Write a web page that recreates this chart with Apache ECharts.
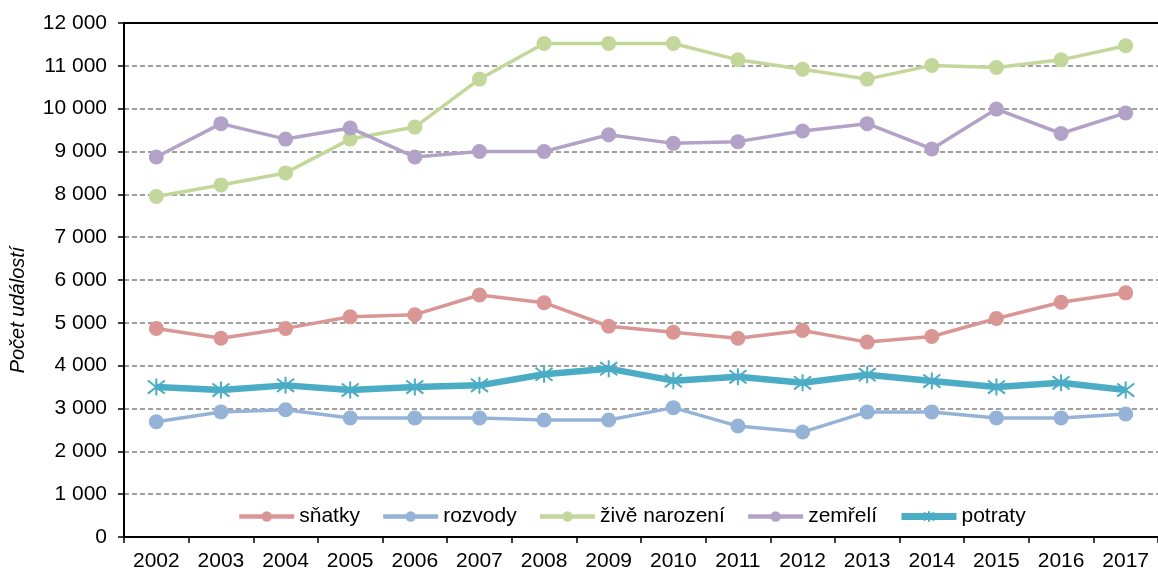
<!DOCTYPE html>
<html>
<head>
<meta charset="utf-8">
<script src="https://cdn.jsdelivr.net/npm/echarts@6/dist/echarts.min.js"></script>
<style>
html, body { margin: 0; padding: 0; background: #fff; }
#main { width: 1158px; height: 575px; }
</style>
</head>
<body>
<div id="main"></div>
<script>
var years = ['2002', '2003', '2004', '2005', '2006', '2007', '2008', '2009', '2010', '2011', '2012', '2013', '2014', '2015', '2016', '2017'];

var snatky = [4870, 4640, 4870, 5140, 5190, 5650, 5470, 4920, 4780, 4640, 4820, 4550, 4680, 5100, 5480, 5700];
var rozvody = [2690, 2920, 2970, 2780, 2780, 2780, 2730, 2730, 3020, 2590, 2450, 2920, 2920, 2780, 2780, 2870];
var narozeni = [7950, 8220, 8500, 9290, 9570, 10690, 11520, 11520, 11520, 11140, 10920, 10690, 11010, 10960, 11140, 11470];
var zemreli = [8870, 9650, 9290, 9550, 8870, 9000, 9000, 9390, 9190, 9230, 9480, 9650, 9060, 9990, 9420, 9900];
var potraty = [3500, 3430, 3540, 3430, 3500, 3540, 3800, 3930, 3650, 3740, 3600, 3790, 3640, 3500, 3600, 3430];

var font = 'Liberation Sans, Arial, sans-serif';
var star = 'path://M0,0 L10,10 M10,0 L0,10 M5,-1.5 L5,11.5';

//formát čísel s mezerou
function fmt(v) {
    return String(v).replace(/\B(?=(\d{3})+(?!\d))/g, ' ');
}

function lineSerie(name, data, color) {
    return {
        name: name,
        type: 'line',
        data: data,
        symbol: 'circle',
        symbolSize: 15,
        lineStyle: { color: color, width: 3.5 },
        itemStyle: { color: color },
        z: 3
    };
}

var chart = echarts.init(document.getElementById('main'));
var option = {
    animation: false,
    grid: { left: 124, right: 0, top: 23, bottom: 38, outerBoundsMode: 'none', containLabel: false },
    legend: {
        top: 506,
        left: 237,
        padding: 0,
        itemWidth: 55,
        itemHeight: 13,
        itemGap: 21,
        textStyle: { fontFamily: font, fontSize: 21, color: '#000' },
        data: [
            { name: 'sňatky', lineStyle: { width: 4.5 } },
            { name: 'rozvody', lineStyle: { width: 4.5 } },
            { name: 'živě narození', lineStyle: { width: 4.5 } },
            { name: 'zemřelí', lineStyle: { width: 4.5 } },
            { name: 'potraty', lineStyle: { width: 7 } }
        ]
    },
    graphic: [{
        type: 'text',
        x: 18,
        y: 310,
        rotation: Math.PI / 2,
        style: {
            text: 'Počet událostí',
            fontFamily: font,
            fontSize: 20,
            fontStyle: 'italic',
            fill: '#000',
            align: 'center',
            verticalAlign: 'middle'
        }
    }],
    xAxis: [{
        type: 'category',
        data: years,
        boundaryGap: true,
        axisLine: { lineStyle: { color: '#000', width: 2 } },
        axisTick: { show: true, length: 6, lineStyle: { color: '#000', width: 1.5 } },
        axisLabel: { fontFamily: font, fontSize: 21, color: '#000', margin: 14 }
    }, {
        type: 'category',
        data: years,
        position: 'top',
        axisLine: { lineStyle: { color: '#000', width: 2 } },
        axisTick: { show: false },
        axisLabel: { show: false }
    }],
    yAxis: {
        type: 'value',
        min: 0,
        max: 12000,
        interval: 1000,
        axisLine: { show: true, lineStyle: { color: '#000', width: 2 } },
        axisTick: { show: true, length: 6, lineStyle: { color: '#000', width: 1.5 } },
        axisLabel: {
            fontFamily: font, fontSize: 21, color: '#000', margin: 17,
            formatter: function (v) { return fmt(v); }
        },
        splitLine: { lineStyle: { color: '#808080', width: 1.5, type: [5, 3] } }
    },
    series: [
        lineSerie('sňatky', snatky, '#d99694'),
        lineSerie('rozvody', rozvody, '#95b3d7'),
        lineSerie('živě narození', narozeni, '#c4d79b'),
        lineSerie('zemřelí', zemreli, '#b3a2c7'),
        {
            name: 'potraty',
            type: 'line',
            data: potraty,
            symbol: star,
            symbolSize: 17,
            lineStyle: { color: '#4bacc6', width: 6.5 },
            itemStyle: { color: '#4bacc6', borderColor: '#4bacc6', borderWidth: 2 },
            z: 4
        }
    ]
};
chart.setOption(option);
</script>
</body>
</html>
